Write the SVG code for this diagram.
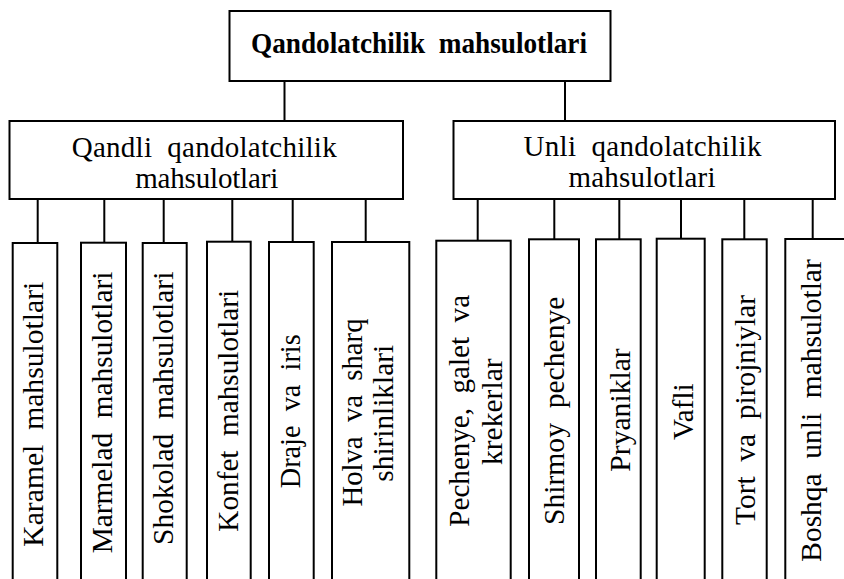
<svg xmlns="http://www.w3.org/2000/svg" width="844" height="579" viewBox="0 0 844 579">
<style>
.box{fill:#fff;stroke:#000;stroke-width:2}
.con line{stroke:#000;stroke-width:2}
</style>
<rect width="844" height="579" fill="#fff"/>
<g id="connectors" class="con">
<line x1="284.5" y1="81" x2="284.5" y2="121"/>
<line x1="565" y1="81" x2="565" y2="121"/>
<line x1="37.7" y1="199" x2="37.7" y2="243"/>
<line x1="104.3" y1="199" x2="104.3" y2="243"/>
<line x1="163.7" y1="199" x2="163.7" y2="243"/>
<line x1="232.3" y1="199" x2="232.3" y2="242"/>
<line x1="292.7" y1="199" x2="292.7" y2="242"/>
<line x1="365.7" y1="199" x2="365.7" y2="242"/>
<line x1="477.7" y1="199" x2="477.7" y2="241"/>
<line x1="554.3" y1="199" x2="554.3" y2="239.5"/>
<line x1="619.3" y1="199" x2="619.3" y2="239.5"/>
<line x1="681" y1="199" x2="681" y2="239"/>
<line x1="744.3" y1="199" x2="744.3" y2="239.5"/>
<line x1="812.7" y1="199" x2="812.7" y2="239"/>
</g>
<g id="root">
<rect class="box" x="229.5" y="11" width="381" height="70"/>
<text font-family="Liberation Serif" font-size="29" font-weight="bold" text-anchor="middle" x="419" y="52.5" textLength="336" lengthAdjust="spacingAndGlyphs" xml:space="preserve">Qandolatchilik  mahsulotlari</text>
</g>
<g id="qandli">
<rect class="box" x="9.5" y="121" width="393.5" height="78"/>
<text font-family="Liberation Serif" font-size="29" text-anchor="middle" x="204.2" y="156.7" textLength="265" xml:space="preserve">Qandli  qandolatchilik</text>
<text font-family="Liberation Serif" font-size="29" text-anchor="middle" x="206.7" y="187.7" textLength="143" xml:space="preserve">mahsulotlari</text>
</g>
<g id="unli">
<rect class="box" x="453.5" y="121" width="381.5" height="78"/>
<text font-family="Liberation Serif" font-size="29" text-anchor="middle" x="642.5" y="156" textLength="238" xml:space="preserve">Unli  qandolatchilik</text>
<text font-family="Liberation Serif" font-size="29" text-anchor="middle" x="642" y="187.3" textLength="147" xml:space="preserve">mahsulotlari</text>
</g>
<g id="karamel">
<rect class="box" x="12.7" y="243" width="44.6" height="360"/>
<text font-family="Liberation Serif" font-size="30" text-anchor="middle" transform="translate(43,414.2) rotate(-90)" textLength="265" lengthAdjust="spacingAndGlyphs" xml:space="preserve">Karamel  mahsulotlari</text>
</g>
<g id="marmelad">
<rect class="box" x="81" y="242.7" width="45" height="360"/>
<text font-family="Liberation Serif" font-size="30" text-anchor="middle" transform="translate(111.7,412.5) rotate(-90)" textLength="281.6" lengthAdjust="spacingAndGlyphs" xml:space="preserve">Marmelad  mahsulotlari</text>
</g>
<g id="shokolad">
<rect class="box" x="142.7" y="243" width="44" height="360"/>
<text font-family="Liberation Serif" font-size="30" text-anchor="middle" transform="translate(173.3,408.3) rotate(-90)" textLength="273.3" lengthAdjust="spacingAndGlyphs" xml:space="preserve">Shokolad  mahsulotlari</text>
</g>
<g id="konfet">
<rect class="box" x="207" y="241.7" width="43.7" height="360"/>
<text font-family="Liberation Serif" font-size="30" text-anchor="middle" transform="translate(238.3,410.8) rotate(-90)" textLength="241.7" lengthAdjust="spacingAndGlyphs" xml:space="preserve">Konfet  mahsulotlari</text>
</g>
<g id="draje">
<rect class="box" x="269" y="242" width="44.7" height="360"/>
<text font-family="Liberation Serif" font-size="30" text-anchor="middle" transform="translate(300,411.3) rotate(-90)" textLength="154" lengthAdjust="spacingAndGlyphs" xml:space="preserve">Draje  va  iris</text>
</g>
<g id="holva">
<rect class="box" x="332" y="242" width="77.3" height="360"/>
<text font-family="Liberation Serif" font-size="30" text-anchor="middle" transform="translate(361.7,412.5) rotate(-90)" textLength="188" lengthAdjust="spacingAndGlyphs" xml:space="preserve">Holva  va  sharq</text>
<text font-family="Liberation Serif" font-size="30" text-anchor="middle" transform="translate(392.7,413.3) rotate(-90)" textLength="136.7" lengthAdjust="spacingAndGlyphs" xml:space="preserve">shirinliklari</text>
</g>
<g id="pechenye">
<rect class="box" x="436.3" y="240.7" width="74.4" height="360"/>
<text font-family="Liberation Serif" font-size="30" text-anchor="middle" transform="translate(468.7,410.8) rotate(-90)" textLength="231.7" lengthAdjust="spacingAndGlyphs" xml:space="preserve">Pechenye,  galet  va</text>
<text font-family="Liberation Serif" font-size="30" text-anchor="middle" transform="translate(502,411.7) rotate(-90)" textLength="106.7" lengthAdjust="spacingAndGlyphs" xml:space="preserve">krekerlar</text>
</g>
<g id="shirmoy">
<rect class="box" x="529" y="239.3" width="50" height="360"/>
<text font-family="Liberation Serif" font-size="30" text-anchor="middle" transform="translate(563.7,410.8) rotate(-90)" textLength="228.3" lengthAdjust="spacingAndGlyphs" xml:space="preserve">Shirmoy  pechenye</text>
</g>
<g id="pryaniklar">
<rect class="box" x="596" y="239.3" width="44.7" height="360"/>
<text font-family="Liberation Serif" font-size="30" text-anchor="middle" transform="translate(630.3,410) rotate(-90)" textLength="123.3" lengthAdjust="spacingAndGlyphs" xml:space="preserve">Pryaniklar</text>
</g>
<g id="vafli">
<rect class="box" x="656.7" y="238.7" width="48" height="360"/>
<text font-family="Liberation Serif" font-size="30" text-anchor="middle" transform="translate(692.7,411.7) rotate(-90)" textLength="56.7" lengthAdjust="spacingAndGlyphs" xml:space="preserve">Vafli</text>
</g>
<g id="tort">
<rect class="box" x="722.3" y="239.3" width="44.4" height="360"/>
<text font-family="Liberation Serif" font-size="30" text-anchor="middle" transform="translate(755.3,410) rotate(-90)" textLength="230" lengthAdjust="spacingAndGlyphs" xml:space="preserve">Tort  va  pirojniylar</text>
</g>
<g id="boshqa">
<rect class="box" x="785.3" y="239" width="80" height="360"/>
<text font-family="Liberation Serif" font-size="30" text-anchor="middle" transform="translate(821.3,410.5) rotate(-90)" textLength="302.4" lengthAdjust="spacingAndGlyphs" xml:space="preserve">Boshqa  unli  mahsulotlar</text>
</g>
</svg>
